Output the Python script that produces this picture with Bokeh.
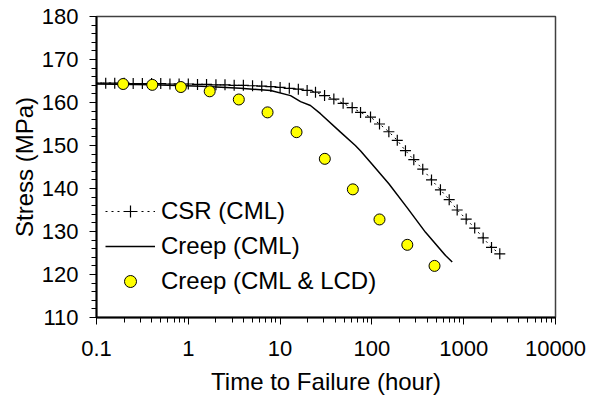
from bokeh.plotting import figure
from bokeh.models import FixedTicker, CustomJSTickFormatter, Legend, LegendItem
from bokeh.embed import file_html
from bokeh.resources import INLINE

# ---- data ----
csr_time = [0.1, 0.126, 0.158, 0.2, 0.251, 0.316, 0.398, 0.501, 0.631, 0.794,
            1.0, 1.26, 1.58, 2.0, 2.51, 3.16, 3.98, 5.01, 6.31, 7.94,
            10.0, 12.6, 15.8, 19.7, 24.3, 30.5, 38.5, 48.6, 61.0, 75.2,
            96.6, 121, 153, 189, 232, 286, 358, 446, 558, 695,
            849, 1064, 1318, 1629, 2009, 2472]
csr_stress = [164.5, 164.5, 164.5, 164.5, 164.4, 164.4, 164.4, 164.4, 164.3, 164.3,
              164.3, 164.2, 164.2, 164.1, 164.1, 164.0, 164.0, 163.9, 163.8, 163.7,
              163.5, 163.3, 163.1, 162.8, 162.4, 161.6, 160.8, 159.8, 158.8, 157.7,
              156.6, 155.0, 153.2, 151.2, 148.8, 146.7, 144.5, 142.0, 139.7, 137.4,
              135.0, 132.9, 130.8, 128.5, 126.3, 124.8]

creep_time = [0.1, 0.4, 1.4, 3.7, 7.9, 13, 16.7, 21.4, 27.5, 45.5, 66, 75, 100,
              153, 243, 384, 634, 750]
creep_stress = [164.3, 164.1, 163.8, 163.3, 162.8, 161.6, 160.2, 159.3, 157.4,
                153.1, 150.0, 148.8, 145.7, 141.1, 135.5, 129.8, 124.4, 122.9]

lcd_time = [0.195, 0.405, 0.83, 1.71, 3.55, 7.3, 15.1, 30.7, 62, 121, 243, 481]
lcd_stress = [164.3, 164.1, 163.6, 162.6, 160.7, 157.7, 153.1, 146.9, 139.8,
              132.8, 126.9, 122.0]

x_ticks = [0.1, 1, 10, 100, 1000, 10000]
y_ticks = [110, 120, 130, 140, 150, 160, 170, 180]

labels = ["CSR (CML)", "Creep (CML)", "Creep (CML & LCD)"]

FONT = "Liberation Sans"

p = figure(width=590, height=400, x_axis_type="log",
           x_range=(0.1, 10000), y_range=(110, 180),
           output_backend="svg", toolbar_location=None,
           min_border_left=96, min_border_right=35,
           min_border_top=16, min_border_bottom=83)

p.grid.visible = False
p.outline_line_color = "#404040"
p.outline_line_width = 1.5
p.background_fill_color = "white"
p.border_fill_color = "white"

minor_x = [m * 10.0 ** e for e in range(-1, 4) for m in range(2, 10)]
p.xaxis.ticker = FixedTicker(ticks=x_ticks, minor_ticks=minor_x)
p.xaxis.formatter = CustomJSTickFormatter(
    code="return tick >= 1 ? tick.toFixed(0) : tick.toString();")
p.yaxis.ticker = FixedTicker(ticks=y_ticks, minor_ticks=list(range(110, 181, 2)))

for ax in (p.xaxis[0], p.yaxis[0]):
    ax.axis_line_color = "black"
    ax.axis_line_width = 2
    ax.major_tick_line_color = "black"
    ax.minor_tick_line_color = "black"
    ax.major_tick_line_width = 1
    ax.minor_tick_line_width = 1
    ax.major_tick_in = 0
    ax.minor_tick_in = 0
    ax.major_tick_out = 7
    ax.minor_tick_out = 5
    ax.major_label_text_font = FONT
    ax.major_label_text_font_size = "22px"
    ax.major_label_text_color = "black"
    ax.axis_label_text_font = FONT
    ax.axis_label_text_font_size = "24px"
    ax.axis_label_text_font_style = "normal"
    ax.axis_label_text_color = "black"

p.xaxis.axis_label = "Time to Failure (hour)"
p.yaxis.axis_label = "Stress (MPa)"
p.xaxis.major_label_standoff = 16
p.xaxis.axis_label_standoff = 9
p.yaxis.major_label_standoff = 11
p.yaxis.axis_label_standoff = 1

r_csr_line = p.line(csr_time, csr_stress, line_color="black", line_width=1,
                    line_dash="2 4")
r_csr_pts = p.scatter(csr_time, csr_stress, marker="cross", size=11,
                      line_color="black", line_width=1.2)
r_creep = p.line(creep_time, creep_stress, line_color="black", line_width=1.5)
r_lcd = p.scatter(lcd_time, lcd_stress, marker="circle", size=11,
                  fill_color="#FFFF00", line_color="black", line_width=1)

legend = Legend(items=[
    LegendItem(label=labels[0], renderers=[r_csr_line, r_csr_pts]),
    LegendItem(label=labels[1], renderers=[r_creep]),
    LegendItem(label=labels[2], renderers=[r_lcd]),
], location=(9, 21))
legend.background_fill_alpha = 0
legend.border_line_color = None
legend.padding = 0
legend.margin = 0
legend.spacing = 5
legend.glyph_width = 50
legend.glyph_height = 30
legend.label_height = 30
legend.label_standoff = 6
legend.label_text_font = FONT
legend.label_text_font_size = "24px"
legend.label_text_color = "black"
p.add_layout(legend)

open("out.html", "w").write(file_html(p, INLINE))
